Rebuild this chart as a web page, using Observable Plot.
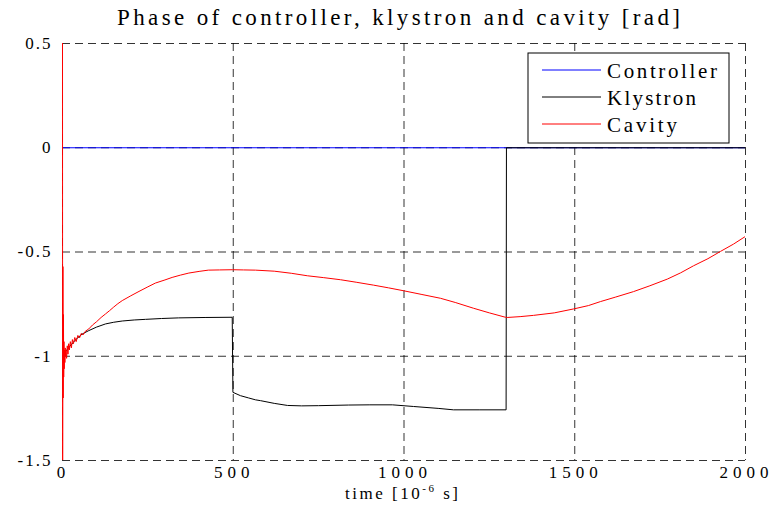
<!DOCTYPE html>
<html><head><meta charset="utf-8">
<script src="https://cdn.jsdelivr.net/npm/d3@7"></script>
<script src="https://cdn.jsdelivr.net/npm/@observablehq/plot@0.6"></script>
<style>body{margin:0;background:#fff} #chart{width:774px;height:516px}</style>
</head><body><div id="chart"></div>
<script>
const seriesNames = ["Controller", "Klystron", "Cavity"];
const seriesColors = ["#0000ff", "#000000", "#ff0000"];
const controllerTime = [0, 2000];
const controllerPhase = [0, 0];
const klystronTime = [0, 5, 10, 20, 40, 58, 77, 100, 126, 150, 175, 210, 243, 290, 340, 420, 497, 499, 521, 545, 565, 580, 620, 659, 700, 750, 838, 900, 966, 1028, 1100, 1145, 1220, 1299, 1300, 2000];
const klystronPhase = [-1.0, -0.99, -0.975, -0.955, -0.918, -0.893, -0.877, -0.86, -0.845, -0.837, -0.831, -0.826, -0.823, -0.819, -0.816, -0.814, -0.813, -1.173, -1.189, -1.2, -1.209, -1.213, -1.226, -1.236, -1.238, -1.237, -1.234, -1.233, -1.233, -1.241, -1.25, -1.257, -1.257, -1.257, 0, 0];
const cavityTime = [0, 0.4, 1.2, 2, 2.8, 3.5, 4.3, 5, 6, 7, 8, 9, 10, 12, 14, 16, 18, 20, 23, 26, 29, 32, 36, 40, 45, 50, 55, 60, 67, 77, 88, 100, 113, 126, 138, 150, 162, 175, 200, 224, 250, 272, 300, 321, 345, 370, 400, 427, 460, 498, 530, 565, 620, 670, 717, 765, 814, 860, 911, 955, 999, 1050, 1107, 1150, 1204, 1250, 1297, 1302, 1340, 1379, 1440, 1497, 1540, 1575, 1620, 1672, 1720, 1771, 1810, 1848, 1890, 1927, 1965, 2000];
const cavityPhase = [0.6, -1.6, -0.57, -1.2, -0.8, -1.1, -0.93, -1.06, -0.97, -1.03, -0.96, -1.0, -0.97, -1.01, -0.95, -0.99, -0.94, -0.97, -0.93, -0.96, -0.92, -0.94, -0.91, -0.93, -0.9, -0.912, -0.89, -0.898, -0.88, -0.869, -0.85, -0.834, -0.814, -0.797, -0.781, -0.764, -0.748, -0.733, -0.71, -0.689, -0.667, -0.649, -0.634, -0.622, -0.611, -0.601, -0.593, -0.587, -0.586, -0.585, -0.586, -0.587, -0.592, -0.602, -0.614, -0.623, -0.633, -0.645, -0.659, -0.672, -0.686, -0.703, -0.722, -0.742, -0.77, -0.792, -0.813, -0.814, -0.81, -0.804, -0.792, -0.773, -0.757, -0.738, -0.716, -0.69, -0.662, -0.63, -0.6, -0.566, -0.532, -0.497, -0.462, -0.425];
const xTicks = [0, 500, 1000, 1500, 2000];
const yTicks = [-1.5, -1, -0.5, 0, 0.5];
const titleText = "Phase of controller, klystron and cavity [rad]";

const toRows = (ts, vs) => ts.map((t, i) => ({t, v: vs[i]}));
const series = [
  toRows(controllerTime, controllerPhase),
  toRows(klystronTime, klystronPhase),
  toRows(cavityTime, cavityPhase)
];

const serif = "'Liberation Serif', 'DejaVu Serif', serif";
const gridStyle = {stroke: "#000", strokeOpacity: 0.8, strokeWidth: 1, strokeDasharray: "8,5"};
const chart = Plot.plot({
  width: 774, height: 516,
  marginLeft: 62, marginRight: 29, marginTop: 43, marginBottom: 56,
  style: {fontFamily: serif, fontSize: "17px", background: "#fff", color: "#000"},
  x: {domain: [0, 2000]},
  y: {domain: [-1.5, 0.5]},
  marks: [
    Plot.gridX(xTicks, gridStyle),
    Plot.gridY(yTicks, gridStyle),
    Plot.axisX(xTicks, {tickSize: 0, tickPadding: 5, tickFormat: d => String(d), label: null}),
    Plot.axisY(yTicks, {tickSize: 0, tickPadding: 10, tickFormat: d => String(d), label: null}),
    ...series.map((rows, i) => Plot.line(rows, {x: "t", y: "v", stroke: seriesColors[i], strokeWidth: 1, clip: true}))
  ]
});
document.getElementById("chart").appendChild(chart);

const svg = d3.select(chart).style("font-family", serif);
svg.selectAll("text").style("font-family", serif);
svg.selectAll('g[aria-label="x-axis tick label"] text').attr("letter-spacing", 5).attr("dx", 1);
svg.selectAll('g[aria-label="y-axis tick label"] text').attr("letter-spacing", 2);

svg.append("text")
  .attr("x", 117).attr("y", 25)
  .attr("text-anchor", "start")
  .attr("font-size", 23).attr("fill", "#000")
  .style("font-family", serif)
  .attr("textLength", 563).attr("lengthAdjust", "spacing")
  .text(titleText);

const xl = svg.append("text").attr("x", 345).attr("y", 499).attr("text-anchor", "start")
  .attr("font-size", 17).attr("fill", "#000").style("font-family", serif)
  .attr("textLength", 113).attr("lengthAdjust", "spacing");
xl.append("tspan").text("time [10");
xl.append("tspan").attr("font-size", 11).attr("dy", -7).text("-6");
xl.append("tspan").attr("dy", 7).text(" s]");

const lg = svg.append("g");
lg.append("rect").attr("x", 528).attr("y", 53).attr("width", 201).attr("height", 90).attr("fill", "#fff").attr("stroke", "#000");
const lengths = [110, 89, 70];
seriesNames.forEach((name, i) => {
  const cy = 70 + i * 27;
  lg.append("line").attr("x1", 542).attr("x2", 601).attr("y1", cy).attr("y2", cy).attr("stroke", seriesColors[i]);
  lg.append("text").attr("x", 607).attr("y", cy + 8).attr("text-anchor", "start")
    .attr("font-size", 21).attr("fill", "#000").style("font-family", serif)
    .attr("textLength", lengths[i]).attr("lengthAdjust", "spacing").text(name);
});
</script>
</body></html>
